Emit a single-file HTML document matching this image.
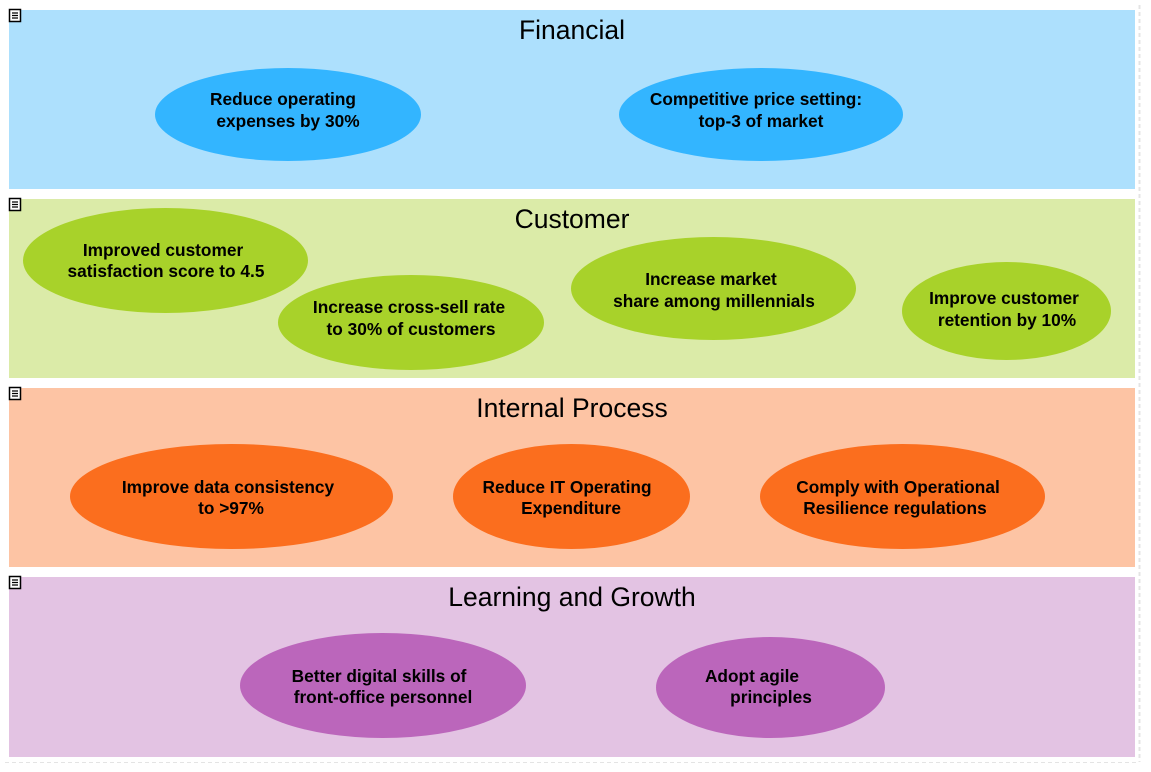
<!DOCTYPE html>
<html><head><meta charset="utf-8"><style>
body{margin:0;background:#fff;width:1151px;height:767px;overflow:hidden}
svg text{font-family:"Liberation Sans",Arial,sans-serif}
</style></head><body>
<svg width="1151" height="767" xmlns="http://www.w3.org/2000/svg">
<line x1="1139.5" y1="5" x2="1139.5" y2="762" stroke="#e4e4e4" stroke-width="2" stroke-dasharray="4,3"/>
<line x1="5" y1="762.5" x2="1139" y2="762.5" stroke="#e4e4e4" stroke-width="1" stroke-dasharray="4,3"/>
<g>
<rect x="9" y="10" width="1126" height="179" fill="#ade0fd"/>
<rect x="9" y="199" width="1126" height="179" fill="#dbeba8"/>
<rect x="9" y="388" width="1126" height="179" fill="#fdc4a4"/>
<rect x="9" y="577" width="1126" height="180" fill="#e3c3e3"/>
</g>
<g id="icons" fill="#fff" stroke="#000">
<g transform="translate(9,9)"><rect x="0.5" y="0.5" width="11" height="12" stroke-width="1.5"/><path d="M3 4h6M3 6.5h6M3 9h6" stroke-width="1.2"/></g>
<g transform="translate(9,198)"><rect x="0.5" y="0.5" width="11" height="12" stroke-width="1.5"/><path d="M3 4h6M3 6.5h6M3 9h6" stroke-width="1.2"/></g>
<g transform="translate(9,387)"><rect x="0.5" y="0.5" width="11" height="12" stroke-width="1.5"/><path d="M3 4h6M3 6.5h6M3 9h6" stroke-width="1.2"/></g>
<g transform="translate(9,576)"><rect x="0.5" y="0.5" width="11" height="12" stroke-width="1.5"/><path d="M3 4h6M3 6.5h6M3 9h6" stroke-width="1.2"/></g>
</g>
<g font-size="26.5" text-anchor="middle" fill="#000">
<text x="572" y="39">Financial</text>
<text x="572" y="228">Customer</text>
<text x="572" y="417">Internal Process</text>
<text x="572" y="606">Learning and Growth</text>
</g>
<g stroke="none">
<ellipse cx="288" cy="114.5" rx="133" ry="46.5" fill="#33b5ff"/>
<ellipse cx="761" cy="114.5" rx="142" ry="46.5" fill="#33b5ff"/>
<ellipse cx="165.5" cy="260.5" rx="142.5" ry="52.5" fill="#a8d22a"/>
<ellipse cx="411" cy="322.5" rx="133" ry="47.5" fill="#a8d22a"/>
<ellipse cx="713.5" cy="288.5" rx="142.5" ry="51.5" fill="#a8d22a"/>
<ellipse cx="1006.5" cy="311" rx="104.5" ry="49" fill="#a8d22a"/>
<ellipse cx="231.5" cy="496.5" rx="161.5" ry="52.5" fill="#fb6e1e"/>
<ellipse cx="571.5" cy="496.5" rx="118.5" ry="52.5" fill="#fb6e1e"/>
<ellipse cx="902.5" cy="496.5" rx="142.5" ry="52.5" fill="#fb6e1e"/>
<ellipse cx="383" cy="685.5" rx="143" ry="52.5" fill="#bb66bb"/>
<ellipse cx="770.5" cy="687.5" rx="114.5" ry="50.5" fill="#bb66bb"/>
</g>
<g font-size="17.3" font-weight="bold" text-anchor="middle" fill="#000">
<text x="283" y="105">Reduce operating</text><text x="288" y="127">expenses by  30%</text>
<text x="756" y="105">Competitive price setting:</text><text x="761" y="127">top-3 of market</text>
<text x="163" y="256">Improved customer</text><text x="166" y="277">satisfaction score to 4.5</text>
<text x="409" y="313">Increase cross-sell rate</text><text x="411" y="335">to 30% of customers</text>
<text x="711" y="285">Increase market</text><text x="714" y="307">share among millennials</text>
<text x="1004" y="304">Improve customer</text><text x="1007" y="326">retention by 10%</text>
<text x="228" y="493">Improve data consistency</text><text x="231" y="514">to &gt;97%</text>
<text x="567" y="493">Reduce IT Operating</text><text x="571" y="514">Expenditure</text>
<text x="898" y="493">Comply with Operational</text><text x="895" y="514">Resilience regulations</text>
<text x="379" y="682">Better digital skills of</text><text x="383" y="703">front-office personnel</text>
<text x="752" y="682">Adopt agile</text><text x="771" y="703">principles</text>
</g>
</svg>
</body></html>
